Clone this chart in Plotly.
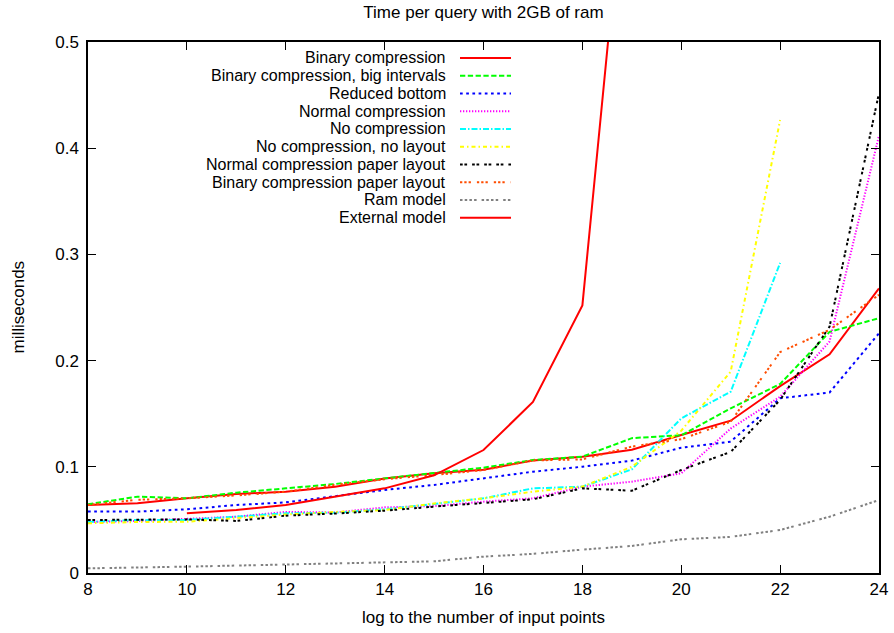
import plotly.graph_objects as go

# ---------------- data ----------------
x_full = [8, 9, 10, 11, 12, 13, 14, 15, 16, 17, 18, 19, 20, 21, 22, 23, 24]
x_to22 = [8, 9, 10, 11, 12, 13, 14, 15, 16, 17, 18, 19, 20, 21, 22]
x_ext = [10, 11, 12, 13, 14, 15, 16, 17, 18, 19]

binary_compression = [0.064, 0.0656, 0.0703, 0.0744, 0.0766, 0.0813, 0.089, 0.094, 0.0973,
                      0.106, 0.1095, 0.116, 0.130, 0.1434, 0.176, 0.206, 0.268]
binary_big_intervals = [0.0647, 0.0719, 0.0703, 0.0756, 0.0797, 0.0838, 0.0891, 0.0939, 0.0992,
                        0.1064, 0.1095, 0.127, 0.1297, 0.155, 0.178, 0.227, 0.240]
reduced_bottom = [0.0578, 0.0578, 0.060, 0.064, 0.0665, 0.072, 0.0782, 0.0829, 0.0891,
                  0.0954, 0.1001, 0.1058, 0.118, 0.1237, 0.1645, 0.170, 0.2257]
normal_compression = [0.048, 0.049, 0.051, 0.053, 0.0575, 0.057, 0.0618, 0.063, 0.0672,
                      0.0703, 0.0813, 0.086, 0.0939, 0.136, 0.166, 0.218, 0.412]
no_compression = [0.048, 0.050, 0.050, 0.053, 0.0562, 0.0568, 0.060, 0.065, 0.0703,
                  0.0797, 0.0813, 0.0976, 0.1456, 0.1707, 0.292]
no_compression_no_layout = [0.0468, 0.048, 0.0483, 0.0518, 0.055, 0.0575, 0.0593, 0.0655, 0.0703,
                            0.0766, 0.0813, 0.100, 0.134, 0.1896, 0.4266]
normal_paper_layout = [0.0499, 0.0505, 0.0505, 0.049, 0.054, 0.056, 0.0587, 0.0625, 0.0656,
                       0.0694, 0.0797, 0.0775, 0.097, 0.114, 0.163, 0.232, 0.452]
binary_paper_layout = [0.064, 0.069, 0.0703, 0.073, 0.0766, 0.083, 0.0883, 0.0922, 0.097,
                       0.106, 0.107, 0.119, 0.126, 0.1425, 0.208, 0.229, 0.262]
ram_model = [0.0044, 0.005, 0.006, 0.007, 0.008, 0.0093, 0.0097, 0.011, 0.0154,
             0.018, 0.022, 0.0255, 0.0317, 0.034, 0.0405, 0.053, 0.0687]
external_model = [0.0562, 0.0593, 0.064, 0.0719, 0.0797, 0.092, 0.1158, 0.161, 0.252, 0.73]

series_names = ["Binary compression", "Binary compression, big intervals", "Reduced bottom",
                "Normal compression", "No compression", "No compression, no layout",
                "Normal compression paper layout", "Binary compression paper layout",
                "Ram model", "External model"]
series_x = [x_full, x_full, x_full, x_full, x_to22, x_to22, x_full, x_full, x_full, x_ext]
series_y = [binary_compression, binary_big_intervals, reduced_bottom, normal_compression,
            no_compression, no_compression_no_layout, normal_paper_layout,
            binary_paper_layout, ram_model, external_model]

x_ticks = [8, 10, 12, 14, 16, 18, 20, 22, 24]
y_ticks = [0, 0.1, 0.2, 0.3, 0.4, 0.5]
y_tick_labels = ["0", "0.1", "0.2", "0.3", "0.4", "0.5"]

title_text = "Time per query with 2GB of ram"
x_title = "log to the number of input points"
y_title = "milliseconds"

# ---------------- styles ----------------
colors = ["#ff0000", "#00ff00", "#0000ff", "#ff00ff", "#00ffff", "#ffff00",
          "#000000", "#ff4d00", "#808080", "#ff0000"]
dashes = ["solid", "5.3px,2.5px", "2.7px,3.5px", "1.3px,1.7px", "6px,2px,1.5px,2px",
          "4px,3px,1.5px,3px", "2.7px,1.7px,2.7px,5px",
          "2.3px,2px,2.3px,2px,2.3px,6px",
          "2.5px,2.2px,2.5px,2.2px,2.5px,2.2px,2.5px,5px", "solid"]

FONT = "Liberation Sans, Arial, sans-serif"
FS = 17
FS_KEY = 16
W, H = 894, 633
L, R, T, B = 88, 15, 42, 60
plot_w = W - L - R
plot_h = H - T - B

fig = go.Figure()
for name, xs, ys, c, d in zip(series_names, series_x, series_y, colors, dashes):
    fig.add_trace(go.Scatter(x=xs, y=ys, mode="lines", name=name,
                             line=dict(color=c, width=2, dash=d), showlegend=False))

# gnuplot-style key: text right-aligned, sample line to its right
text_right_px = 448
sample_x0_px, sample_x1_px = 460, 511
row0_px, row_step = 58, 17.74
for i, (name, c, d) in enumerate(zip(series_names, colors, dashes)):
    ypx = row0_px + i * row_step
    yp = (H - B - ypx) / plot_h
    fig.add_annotation(x=(text_right_px - L) / plot_w, y=yp, xref="paper", yref="paper",
                       text=name, showarrow=False, xanchor="right", yanchor="middle",
                       font=dict(family=FONT, size=FS_KEY, color="#000000"))
    fig.add_shape(type="line", xref="paper", yref="paper",
                  x0=(sample_x0_px - L) / plot_w, x1=(sample_x1_px - L) / plot_w,
                  y0=yp, y1=yp, line=dict(color=c, width=2, dash=d))

# axis titles placed like gnuplot's
fig.add_annotation(x=0.5, y=(H - B - 617) / plot_h, xref="paper", yref="paper",
                   text=x_title, showarrow=False, xanchor="center", yanchor="middle",
                   font=dict(family=FONT, size=FS))
fig.add_annotation(x=(18 - L) / plot_w, y=0.5, xref="paper", yref="paper",
                   text=y_title, showarrow=False, textangle=-90,
                   xanchor="center", yanchor="middle",
                   font=dict(family=FONT, size=FS))

axis_common = dict(showgrid=False, zeroline=False, showline=True, linecolor="#000000",
                   linewidth=1.5, mirror="allticks", ticks="inside", ticklen=8,
                   tickcolor="#000000", tickwidth=1, automargin=False,
                   tickfont=dict(family=FONT, size=FS))

fig.update_layout(
    width=W, height=H,
    margin=dict(l=L, r=R, t=T, b=B, autoexpand=False),
    paper_bgcolor="white", plot_bgcolor="white",
    font=dict(family=FONT, size=FS, color="#000000"),
    title=dict(text=title_text, x=0.5, xref="paper",
               y=1 - 12 / H, yref="container", yanchor="middle", xanchor="center",
               font=dict(family=FONT, size=FS)),
    xaxis=dict(range=[8, 24], tickvals=x_ticks, ticktext=[str(v) for v in x_ticks],
               **axis_common),
    yaxis=dict(range=[0, 0.5], tickvals=y_ticks, ticktext=y_tick_labels,
               ticklabelstandoff=4, **axis_common),
)

fig.write_html("out.html", config={"displayModeBar": False},
               post_script="document.body.style.margin='0';document.body.style.overflow='hidden';")
